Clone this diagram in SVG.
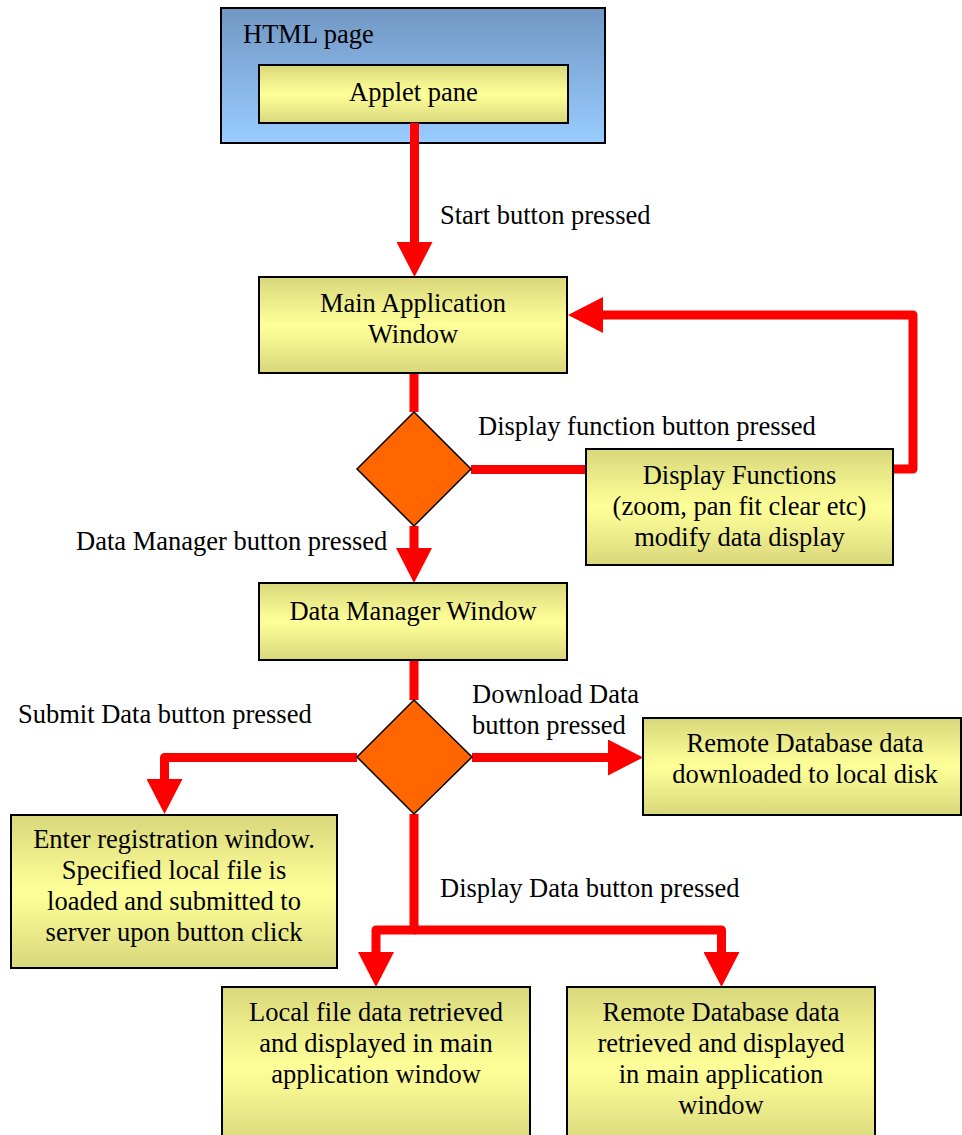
<svg xmlns="http://www.w3.org/2000/svg" width="962" height="1135" viewBox="0 0 962 1135">
  <style>
    text { font-family: "Liberation Serif", "Times New Roman", serif; font-size: 26.5px; fill: #000; }
    .c { text-anchor: middle; }
    .box { fill: url(#yellow); stroke: #000; stroke-width: 2; }
    .page { fill: url(#blue); stroke: #000; stroke-width: 2; }
    .dec { fill: #ff6600; stroke: #000; stroke-width: 1.5; stroke-linejoin: miter; }
    .wire { fill: none; stroke: #ff0000; stroke-width: 9; stroke-linejoin: round; }
  </style>
  <defs>
    <linearGradient id="yellow" x1="0" y1="0" x2="0" y2="1">
      <stop offset="0" stop-color="#d8d87c"/>
      <stop offset="0.5" stop-color="#ffff99"/>
      <stop offset="1" stop-color="#d8d87c"/>
    </linearGradient>
    <linearGradient id="blue" x1="0" y1="0" x2="0" y2="1">
      <stop offset="0" stop-color="#7197c3"/>
      <stop offset="1" stop-color="#99ccff"/>
    </linearGradient>
    <!-- arrowhead: base sits at the path end, tip 35px further on -->
    <marker id="head" viewBox="0 0 35 36" markerWidth="35" markerHeight="36" refX="0" refY="18" orient="auto" markerUnits="userSpaceOnUse">
      <path d="M0 0 L35 18 L0 36 Z" fill="#ff0000"/>
    </marker>
  </defs>

  <g id="html-page">
    <rect class="page" x="221" y="8" width="384" height="135"/>
    <text x="243" y="43">HTML page</text>
  </g>
  <g id="applet-pane">
    <rect class="box" x="259" y="65" width="309" height="58"/>
    <text class="c" x="413.5" y="101">Applet pane</text>
  </g>

  <g id="connectors">
    <path class="wire" d="M414.5 123 V242" marker-end="url(#head)"/>
    <path class="wire" d="M893 469 H913 V315 H603" marker-end="url(#head)"/>
    <path class="wire" d="M414 373 V412"/>
    <path class="wire" d="M471 469.5 H586"/>
    <path class="wire" d="M414 526 V548" marker-end="url(#head)"/>
    <path class="wire" d="M414 660 V700"/>
    <path class="wire" d="M357 757.5 H164.5 V779" marker-end="url(#head)"/>
    <path class="wire" d="M472 757.5 H608" marker-end="url(#head)"/>
    <path class="wire" d="M414 814 V930 H376 V952" marker-end="url(#head)"/>
    <path class="wire" d="M414 930 H721.5 V952" marker-end="url(#head)"/>
  </g>

  <g id="labels">
    <text x="440" y="224">Start button pressed</text>
    <text x="478" y="435">Display function button pressed</text>
    <text x="76" y="550">Data Manager button pressed</text>
    <text x="18" y="723">Submit Data button pressed</text>
    <text x="472" y="703">Download Data</text>
    <text x="472" y="734">button pressed</text>
    <text x="440" y="897">Display Data button pressed</text>
  </g>

  <g id="main-window">
    <rect class="box" x="259" y="277" width="308" height="96"/>
    <text class="c" x="413" y="312">Main Application</text>
    <text class="c" x="413" y="343">Window</text>
  </g>

  <g id="display-decision">
    <polygon class="dec" points="414,412 471,469 414,526 357,469"/>
  </g>

  <g id="display-functions">
    <rect class="box" x="586" y="449" width="307" height="116"/>
    <text class="c" x="739.5" y="484">Display Functions</text>
    <text class="c" x="739.5" y="515">(zoom, pan fit clear etc)</text>
    <text class="c" x="739.5" y="546">modify data display</text>
  </g>

  <g id="data-manager">
    <rect class="box" x="259" y="583" width="308" height="77"/>
    <text class="c" x="413" y="620">Data Manager Window</text>
  </g>

  <g id="data-decision">
    <polygon class="dec" points="414,700 472,757 414,814 357,757"/>
  </g>

  <g id="registration">
    <rect class="box" x="11" y="815" width="326" height="153"/>
    <text class="c" x="174" y="848">Enter registration window.</text>
    <text class="c" x="174" y="879">Specified local file is</text>
    <text class="c" x="174" y="910">loaded and submitted to</text>
    <text class="c" x="174" y="941">server upon button click</text>
  </g>

  <g id="download">
    <rect class="box" x="643" y="718" width="318" height="97"/>
    <text class="c" x="805" y="752">Remote Database data</text>
    <text class="c" x="805" y="783">downloaded to local disk</text>
  </g>

  <g id="local-display">
    <rect class="box" x="222" y="987" width="308" height="160"/>
    <text class="c" x="376" y="1021">Local file data retrieved</text>
    <text class="c" x="376" y="1052">and displayed in main</text>
    <text class="c" x="376" y="1083">application window</text>
  </g>

  <g id="remote-display">
    <rect class="box" x="567" y="987" width="308" height="160"/>
    <text class="c" x="721" y="1021">Remote Database data</text>
    <text class="c" x="721" y="1052">retrieved and displayed</text>
    <text class="c" x="721" y="1083">in main application</text>
    <text class="c" x="721" y="1114">window</text>
  </g>
</svg>
